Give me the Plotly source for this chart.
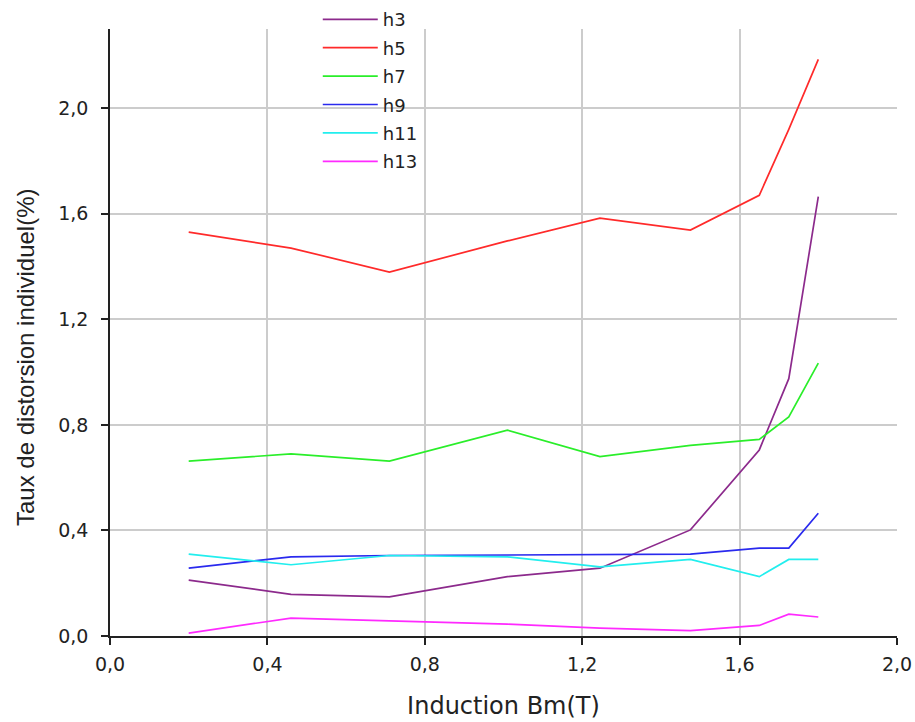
import plotly.graph_objects as go

x_vals = [0.2, 0.46, 0.71, 1.01, 1.245, 1.475, 1.65, 1.725, 1.8]
h3 = [0.212, 0.158, 0.148, 0.225, 0.257, 0.402, 0.705, 0.975, 1.665]
h5 = [1.53, 1.47, 1.379, 1.497, 1.583, 1.538, 1.67, 1.92, 2.185]
h7 = [0.663, 0.69, 0.663, 0.78, 0.68, 0.722, 0.745, 0.83, 1.034]
h9 = [0.257, 0.30, 0.305, 0.307, 0.307, 0.31, 0.333, 0.333, 0.465]
h11 = [0.31, 0.27, 0.305, 0.30, 0.262, 0.29, 0.225, 0.29, 0.29]
h13 = [0.011, 0.068, 0.057, 0.045, 0.03, 0.02, 0.04, 0.083, 0.072]

series_names = ["h3", "h5", "h7", "h9", "h11", "h13"]
series_vals = [h3, h5, h7, h9, h11, h13]
colors = ["#8c2a8c", "#ff2a2a", "#2aee2a", "#2a2aee", "#22eeee", "#ff2aff"]

x_ticks = [0.0, 0.4, 0.8, 1.2, 1.6, 2.0]
y_ticks = [0.0, 0.4, 0.8, 1.2, 1.6, 2.0]
x_grid = [0.4, 0.8, 1.2, 1.6]

fig = go.Figure()
for name, vals, col in zip(series_names, series_vals, colors):
    fig.add_trace(go.Scatter(x=x_vals, y=vals, mode="lines", name=name,
                             legendgroup=name,
                             line=dict(color=col, width=1.7)))

# invisible trace on overlay axis carrying the vertical gridlines
fig.add_trace(go.Scatter(x=[0, 2], y=[0, 0], xaxis="x2", mode="lines",
                         line=dict(width=0), showlegend=False, hoverinfo="skip"))

# white panel behind the legend hiding the gridlines
fig.add_shape(type="rect", xref="paper", yref="paper", layer="between",
              x0=0.256, x1=0.408, y0=(636 - 188) / 607, y1=1.06,
              fillcolor="white", line=dict(width=0))

# y-axis title (centred on the figure as in the reference)
fig.add_annotation(text="Taux de distorsion individuel(%)", textangle=-90,
                   xref="paper", yref="paper", x=(25 - 110) / 787, y=(636 - 357) / 607,
                   xanchor="center", yanchor="middle", showarrow=False,
                   font=dict(family="Liberation Sans, Arial, sans-serif", size=24, color="#222"))

tick_font = dict(family="DejaVu Sans, Verdana, sans-serif", size=19, color="#222")

fig.update_layout(
    width=915, height=722,
    margin=dict(l=110, r=18, t=29, b=86, autoexpand=False),
    paper_bgcolor="white", plot_bgcolor="white",
    separators=", ",
    font=dict(family="DejaVu Sans, Verdana, sans-serif", size=18, color="#222"),
    xaxis=dict(range=[0, 2.0], tickvals=x_ticks, tickformat=".1f",
               showgrid=False, zeroline=False, automargin=False,
               showline=True, linecolor="#222", linewidth=1.5,
               ticks="outside", ticklen=7, tickwidth=1.5, tickcolor="#222",
               tickfont=tick_font, ticklabelstandoff=3, ticklabeloverflow="allow",
               title=dict(text="Induction Bm(T)", standoff=24,
                          font=dict(family="DejaVu Sans, Verdana, sans-serif", size=24, color="#222"))),
    xaxis2=dict(range=[0, 2.0], overlaying="x", tickvals=x_grid, showticklabels=False,
                showgrid=True, gridcolor="#cccccc", gridwidth=1.5,
                zeroline=False, showline=False, ticks=""),
    yaxis=dict(range=[0, 2.3], tickvals=y_ticks, tickformat=".1f",
               showgrid=True, gridcolor="#cccccc", gridwidth=1.5, zeroline=False,
               automargin=False,
               showline=True, linecolor="#222", linewidth=1.5,
               ticks="outside", ticklen=7, tickwidth=1.5, tickcolor="#222",
               tickfont=tick_font, ticklabelstandoff=9),
    legend=dict(x=0.264, y=1.046, xanchor="left", yanchor="top",
                bgcolor="rgba(255,255,255,0)", borderwidth=0, tracegroupgap=2,
                font=dict(family="DejaVu Sans, Verdana, sans-serif", size=18, color="#222"),
                itemwidth=55),
    showlegend=True,
)

fig.write_html("out.html", config={"displayModeBar": False},
               post_script="document.body.style.margin='0px';")
